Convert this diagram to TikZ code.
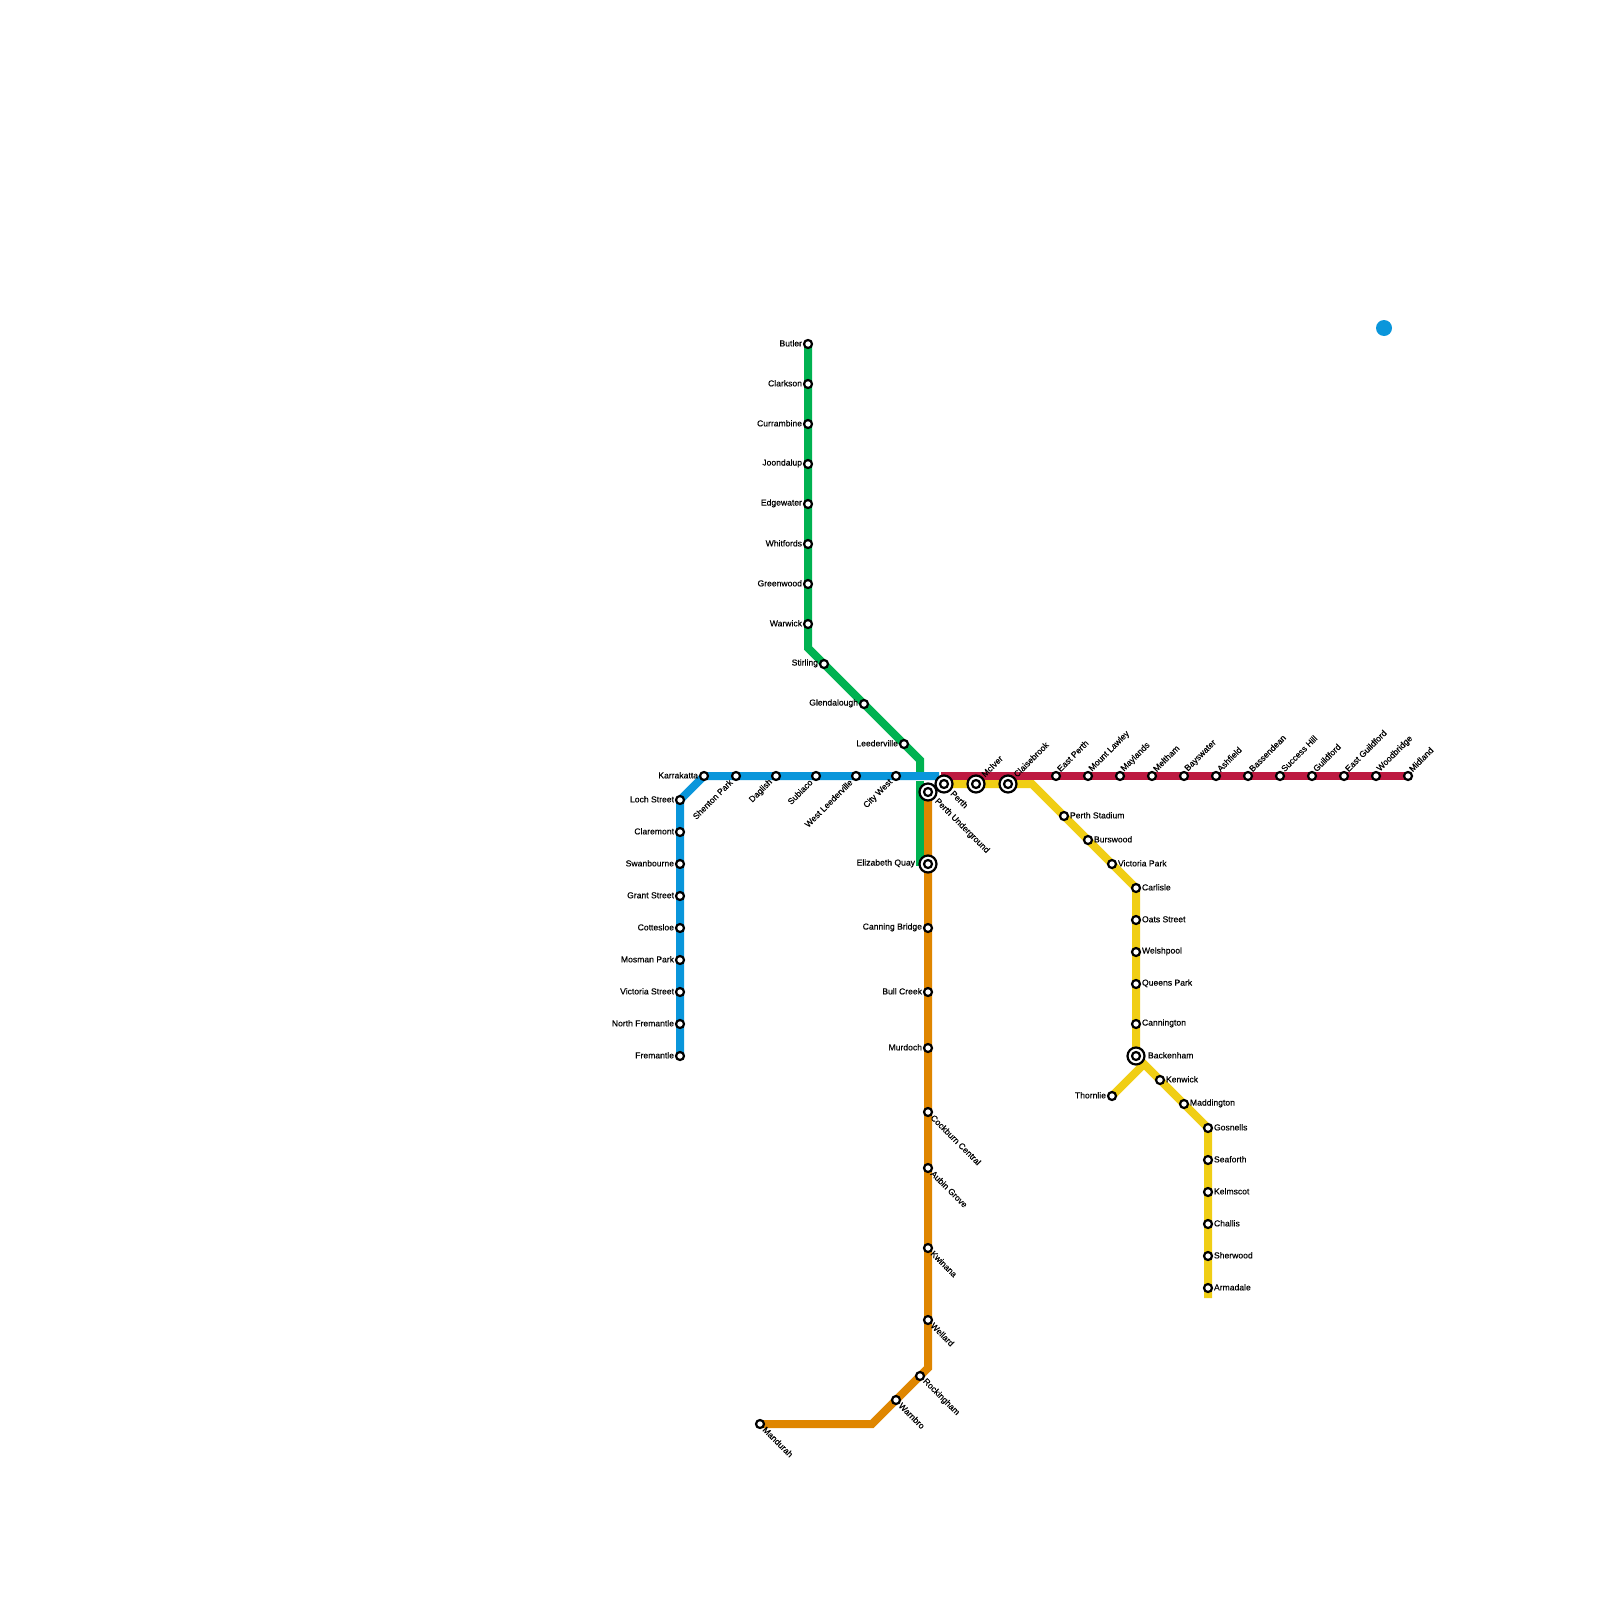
\documentclass[tikz,border=0pt]{standalone}
\usepackage{fontspec}
\setmainfont{Liberation Sans}
\newfontfamily\lblfont[FakeBold=0.35]{Liberation Sans}
\definecolor{blueL}{HTML}{0A96DB}
\definecolor{greenL}{HTML}{00B251}
\definecolor{orangeL}{HTML}{DF8600}
\definecolor{redL}{HTML}{BD1A41}
\definecolor{yellowL}{HTML}{F0CE15}
\tikzset{
 rail/.style={line width=8pt,line join=miter,line cap=butt},
 stn/.style={circle,draw=black,fill=white,line width=2.2pt,minimum size=8pt,inner sep=0pt,outer sep=0pt},
 hub/.style={circle,draw=black,fill=white,line width=2.2pt,minimum size=17pt,inner sep=0pt,outer sep=0pt},
 txt/.style={font=\lblfont\fontsize{8.6}{10}\selectfont,inner sep=0pt,outer sep=0pt,text=black},
 W/.style={txt,anchor=east,xshift=-6pt,yshift=0.7pt},
 E/.style={txt,anchor=west,xshift=6pt,yshift=0.7pt},
 NE/.style={txt,anchor=west,rotate=45,xshift=6pt,yshift=2.4pt},
 SE/.style={txt,anchor=west,rotate=-45,xshift=6pt},
 SW/.style={txt,anchor=east,rotate=45,xshift=-7pt},
 HW/.style={txt,anchor=east,xshift=-13pt,yshift=0.7pt},
 HE/.style={txt,anchor=west,xshift=12pt,yshift=0.7pt},
 HNE/.style={txt,anchor=west,rotate=45,xshift=11pt,yshift=1pt},
 HSE/.style={txt,anchor=west,rotate=-45,xshift=11.5pt},
}
\newcommand{\sta}[3]{\node[stn] (s-#1) at (#1) {}; \node[#2] (l-#1) at (s-#1.center) {#3};}
\newcommand{\hubsta}[3]{\node[hub] (s-#1) at (#1) {}; \node[stn] (i-#1) at (#1) {}; \node[#2] (l-#1) at (s-#1.center) {#3};}
\begin{document}
\begin{tikzpicture}[x=1pt,y=-1pt]
\useasboundingbox (0,0) rectangle (1600,1600);
\fill[white] (0,0) rectangle (1600,1600);
\foreach \n/\x/\y in {karrakatta/704/776,shenton/736/776,daglish/776/776,subiaco/816/776,westleed/856/776,citywest/896/776,
 loch/680/800,claremont/680/832,swanbourne/680/864,grant/680/896,cottesloe/680/928,mosman/680/960,victoriast/680/992,northfre/680/1024,fremantle/680/1056,
 butler/808/344,clarkson/808/384,currambine/808/424,joondalup/808/464,edgewater/808/504,whitfords/808/544,greenwood/808/584,warwick/808/624,
 stirling/824/664,glendalough/864/704,leederville/904/744,
 perthu/928/792,elizabeth/928/864,canning/928/928,bull/928/992,murdoch/928/1048,cockburn/928/1112,aubin/928/1168,kwinana/928/1248,wellard/928/1320,rockingham/920/1376,wambro/896/1400,mandurah/760/1424,
 perth/944/784,mciver/976/784,claisebrook/1008/784,
 eastperth/1056/776,mtlawley/1088/776,maylands/1120/776,meltham/1152/776,bayswater/1184/776,ashfield/1216/776,bassendean/1248/776,success/1280/776,guildford/1312/776,eastguild/1344/776,woodbridge/1376/776,midland/1408/776,
 stadium/1064/816,burswood/1088/840,victoriapk/1112/864,carlisle/1136/888,oats/1136/920,welshpool/1136/952,queens/1136/984,cannington/1136/1024,beckenham/1136/1056,
 thornlie/1112/1096,kenwick/1160/1080,maddington/1184/1104,gosnells/1208/1128,seaforth/1208/1160,kelmscott/1208/1192,challis/1208/1224,sherwood/1208/1256,armadale/1208/1288,
 bendG/808/648,bendGb/920/760,endGa/920/772,startG/920/781,endGb/920/866,bendO/928/1368,bendOb/872/1424,
 endB/939/776,startR/941/776,bendY/1032/784,apex/1144/1064,endY/1208/1298}
 {\coordinate (\n) at (\x,\y);}
\draw[rail,greenL] (butler) -- (bendG) -- (bendGb) -- (endGa);
\draw[rail,greenL] (startG) -- (endGb);
\draw[rail,orangeL] (perthu) -- (bendO) -- (bendOb) -- (mandurah);
\draw[rail,yellowL] (perth) -- (bendY) -- (carlisle) -- (beckenham) -- (apex) -- (gosnells) -- (endY);
\draw[rail,yellowL] (apex) -- (thornlie);
\draw[rail,redL] (startR) -- (midland);
\draw[rail,blueL] (fremantle) -- (loch) -- (karrakatta) -- (endB);
\node[circle,fill=blueL,minimum size=16pt,inner sep=0pt] (dot) at (1384,328) {};
\sta{butler}{W}{Butler}\sta{clarkson}{W}{Clarkson}\sta{currambine}{W}{Currambine}\sta{joondalup}{W}{Joondalup}\sta{edgewater}{W}{Edgewater}\sta{whitfords}{W}{Whitfords}\sta{greenwood}{W}{Greenwood}\sta{warwick}{W}{Warwick}\sta{stirling}{W}{Stirling}\sta{glendalough}{W}{Glendalough}\sta{leederville}{W}{Leederville}
\sta{karrakatta}{W}{Karrakatta}\sta{shenton}{SW}{Shenton Park}\sta{daglish}{SW}{Daglish}\sta{subiaco}{SW}{Subiaco}\sta{westleed}{SW}{West Leederville}\sta{citywest}{SW}{City West}
\sta{loch}{W}{Loch Street}\sta{claremont}{W}{Claremont}\sta{swanbourne}{W}{Swanbourne}\sta{grant}{W}{Grant Street}\sta{cottesloe}{W}{Cottesloe}\sta{mosman}{W}{Mosman Park}\sta{victoriast}{W}{Victoria Street}\sta{northfre}{W}{North Fremantle}\sta{fremantle}{W}{Fremantle}
\hubsta{perthu}{HSE}{Perth Underground}\hubsta{elizabeth}{HW}{Elizabeth Quay}\hubsta{perth}{HSE}{Perth}\hubsta{mciver}{HNE}{McIver}\hubsta{claisebrook}{HNE}{Claisebrook}\hubsta{beckenham}{HE}{Backenham}
\sta{canning}{W}{Canning Bridge}\sta{bull}{W}{Bull Creek}\sta{murdoch}{W}{Murdoch}\sta{cockburn}{SE}{Cockburn Central}\sta{aubin}{SE}{Aubin Grove}\sta{kwinana}{SE}{Kwinana}\sta{wellard}{SE}{Wellard}\sta{rockingham}{SE}{Rockingham}\sta{wambro}{SE}{Warnbro}\sta{mandurah}{SE}{Mandurah}
\sta{eastperth}{NE}{East Perth}\sta{mtlawley}{NE}{Mount Lawley}\sta{maylands}{NE}{Maylands}\sta{meltham}{NE}{Meltham}\sta{bayswater}{NE}{Bayswater}\sta{ashfield}{NE}{Ashfield}\sta{bassendean}{NE}{Bassendean}\sta{success}{NE}{Success Hill}\sta{guildford}{NE}{Guildford}\sta{eastguild}{NE}{East Guildford}\sta{woodbridge}{NE}{Woodbridge}\sta{midland}{NE}{Midland}
\sta{stadium}{E}{Perth Stadium}\sta{burswood}{E}{Burswood}\sta{victoriapk}{E}{Victoria Park}\sta{carlisle}{E}{Carlisle}\sta{oats}{E}{Oats Street}\sta{welshpool}{E}{Welshpool}\sta{queens}{E}{Queens Park}\sta{cannington}{E}{Cannington}
\sta{thornlie}{W}{Thornlie}\sta{kenwick}{E}{Kenwick}\sta{maddington}{E}{Maddington}\sta{gosnells}{E}{Gosnells}\sta{seaforth}{E}{Seaforth}\sta{kelmscott}{E}{Kelmscot}\sta{challis}{E}{Challis}\sta{sherwood}{E}{Sherwood}\sta{armadale}{E}{Armadale}
\end{tikzpicture}
\end{document}
